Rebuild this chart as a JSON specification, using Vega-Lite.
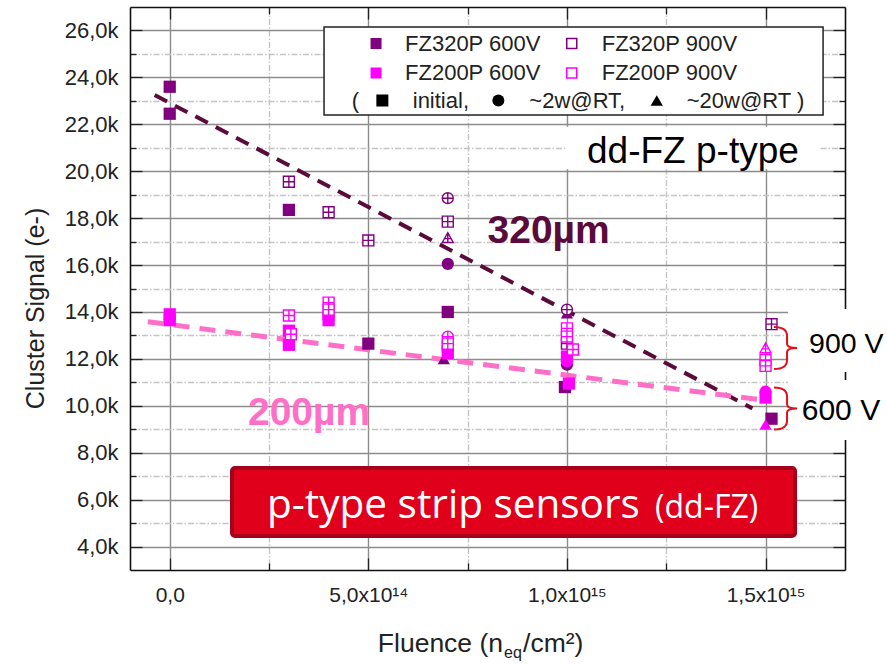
{
  "$schema": "https://vega.github.io/schema/vega-lite/v6.json",
  "width": 715,
  "height": 563,
  "autosize": {"type": "none"},
  "padding": {"left": 130, "top": 7, "right": 42, "bottom": 94},
  "background": "white",
  "config": {"view": {"stroke": null}, "font": "Liberation Sans"},
  "data": {"values": [{}]},
  "datasets": {
    "fits": [
      {"fit": "t320", "f": -3.8e13, "s": 23250},
      {"fit": "t320", "f": 1.467e15, "s": 9890},
      {"fit": "t200", "f": -5.5e13, "s": 13580},
      {"fit": "t200", "f": 1.49e15, "s": 10250}
    ],
    "pts": [
      {"sample": "FZ320P", "bias": "600V", "state": "initial", "f": 0, "s": 23600},
      {"sample": "FZ320P", "bias": "600V", "state": "initial", "f": 0, "s": 22450},
      {"sample": "FZ320P", "bias": "600V", "state": "initial", "f": 3e14, "s": 18350},
      {"sample": "FZ320P", "bias": "600V", "state": "initial", "f": 5e14, "s": 12650},
      {"sample": "FZ320P", "bias": "600V", "state": "2w", "f": 7e14, "s": 16050},
      {"sample": "FZ320P", "bias": "600V", "state": "initial", "f": 7e14, "s": 14000},
      {"sample": "FZ320P", "bias": "600V", "state": "20w", "f": 6.9e14, "s": 12000},
      {"sample": "FZ320P", "bias": "600V", "state": "20w", "f": 1e15, "s": 13950},
      {"sample": "FZ320P", "bias": "600V", "state": "2w", "f": 1e15, "s": 11750},
      {"sample": "FZ320P", "bias": "600V", "state": "initial", "f": 0.995e15, "s": 10800},
      {"sample": "FZ320P", "bias": "600V", "state": "initial", "f": 1.515e15, "s": 9450},
      {"sample": "FZ200P", "bias": "600V", "state": "initial", "f": 0, "s": 13900},
      {"sample": "FZ200P", "bias": "600V", "state": "initial", "f": 0, "s": 13650},
      {"sample": "FZ200P", "bias": "600V", "state": "initial", "f": 3e14, "s": 13200},
      {"sample": "FZ200P", "bias": "600V", "state": "initial", "f": 3e14, "s": 12600},
      {"sample": "FZ200P", "bias": "600V", "state": "initial", "f": 4e14, "s": 13900},
      {"sample": "FZ200P", "bias": "600V", "state": "initial", "f": 4e14, "s": 13650},
      {"sample": "FZ200P", "bias": "600V", "state": "initial", "f": 7e14, "s": 12550},
      {"sample": "FZ200P", "bias": "600V", "state": "initial", "f": 7e14, "s": 12250},
      {"sample": "FZ200P", "bias": "600V", "state": "initial", "f": 1e15, "s": 12100},
      {"sample": "FZ200P", "bias": "600V", "state": "2w", "f": 1e15, "s": 11900},
      {"sample": "FZ200P", "bias": "600V", "state": "initial", "f": 1.005e15, "s": 10950},
      {"sample": "FZ200P", "bias": "600V", "state": "2w", "f": 1.5e15, "s": 10600},
      {"sample": "FZ200P", "bias": "600V", "state": "initial", "f": 1.5e15, "s": 10350},
      {"sample": "FZ200P", "bias": "600V", "state": "20w", "f": 1.5e15, "s": 9200},
      {"sample": "FZ320P", "bias": "900V", "state": "initial", "f": 3e14, "s": 19550},
      {"sample": "FZ320P", "bias": "900V", "state": "initial", "f": 4e14, "s": 18250},
      {"sample": "FZ320P", "bias": "900V", "state": "initial", "f": 5e14, "s": 17050},
      {"sample": "FZ320P", "bias": "900V", "state": "2w", "f": 7e14, "s": 18850},
      {"sample": "FZ320P", "bias": "900V", "state": "initial", "f": 7e14, "s": 17850},
      {"sample": "FZ320P", "bias": "900V", "state": "20w", "f": 7e14, "s": 17150},
      {"sample": "FZ320P", "bias": "900V", "state": "2w", "f": 1e15, "s": 14100},
      {"sample": "FZ320P", "bias": "900V", "state": "initial", "f": 1e15, "s": 12650},
      {"sample": "FZ320P", "bias": "900V", "state": "initial", "f": 1.515e15, "s": 13480},
      {"sample": "FZ200P", "bias": "900V", "state": "initial", "f": 3e14, "s": 13850},
      {"sample": "FZ200P", "bias": "900V", "state": "initial", "f": 3.05e14, "s": 13050},
      {"sample": "FZ200P", "bias": "900V", "state": "initial", "f": 4e14, "s": 14400},
      {"sample": "FZ200P", "bias": "900V", "state": "initial", "f": 4e14, "s": 14100},
      {"sample": "FZ200P", "bias": "900V", "state": "2w", "f": 7e14, "s": 12950},
      {"sample": "FZ200P", "bias": "900V", "state": "initial", "f": 7e14, "s": 12650},
      {"sample": "FZ200P", "bias": "900V", "state": "initial", "f": 1e15, "s": 13300},
      {"sample": "FZ200P", "bias": "900V", "state": "initial", "f": 1e15, "s": 12950},
      {"sample": "FZ200P", "bias": "900V", "state": "initial", "f": 1.015e15, "s": 12400},
      {"sample": "FZ200P", "bias": "900V", "state": "20w", "f": 1.5e15, "s": 12450},
      {"sample": "FZ200P", "bias": "900V", "state": "initial", "f": 1.5e15, "s": 11950},
      {"sample": "FZ200P", "bias": "900V", "state": "initial", "f": 1.5e15, "s": 11700}
    ]
  },
  "resolve": {
    "scale": {"shape": "independent"},
    "axis": {"x": "independent", "y": "independent"}
  },
  "layer": [
    {
      "data": {"name": "fits"},
      "transform": [{"filter": "datum.fit === 't320'"}],
      "mark": {"type": "line", "color": "#5a0b3b", "strokeWidth": 4, "strokeDash": [14, 9]},
      "encoding": {
        "x": {
          "field": "f", "type": "quantitative",
          "scale": {"domain": [-1e14, 1.7e15], "nice": false, "zero": false},
          "axis": {
            "orient": "bottom",
            "values": [0, 2.5e14, 5e14, 7.5e14, 1e15, 1.25e15, 1.5e15],
            "labelExpr": "datum.value === 0 ? '0,0' : datum.value === 5e14 ? '5,0x10¹⁴' : datum.value === 1e15 ? '1,0x10¹⁵' : datum.value === 1.5e15 ? '1,5x10¹⁵' : ''",
            "labelFont": "Liberation Sans", "labelFontSize": 21, "labelColor": "#222",
            "labelPadding": 26, "labelFlush": false, "labelOverlap": false,
            "tickSize": {"condition": {"test": "datum.value % 5e14 !== 0", "value": -7}, "value": -12},
            "tickColor": "#222", "tickWidth": 1.3,
            "grid": true,
            "gridColor": {"condition": {"test": "datum.value % 5e14 !== 0", "value": "#c4c4c4"}, "value": "#8c8c8c"},
            "gridDash": {"condition": {"test": "datum.value % 5e14 !== 0", "value": [6, 2, 1.5, 2]}, "value": []},
            "gridWidth": 1.4,
            "domain": true, "domainColor": "#111", "domainWidth": 1.6,
            "title": null
          }
        },
        "y": {
          "field": "s", "type": "quantitative",
          "scale": {"domain": [3000, 27000], "nice": false, "zero": false},
          "axis": {
            "orient": "left",
            "values": [4000, 5000, 6000, 7000, 8000, 9000, 10000, 11000, 12000, 13000, 14000, 15000, 16000, 17000, 18000, 19000, 20000, 21000, 22000, 23000, 24000, 25000, 26000],
            "labelExpr": "datum.value % 2000 === 0 ? replace(format(datum.value / 1000, '.1f'), '.', ',') + 'k' : ''",
            "labelFont": "Liberation Sans", "labelFontSize": 22, "labelColor": "#222",
            "labelPadding": 24, "labelOverlap": false,
            "tickSize": {"condition": {"test": "datum.value % 2000 !== 0", "value": -6}, "value": -12},
            "tickColor": "#222", "tickWidth": 1.3,
            "grid": true,
            "gridColor": {"condition": {"test": "datum.value % 2000 !== 0", "value": "#c4c4c4"}, "value": "#8c8c8c"},
            "gridDash": {"condition": {"test": "datum.value % 2000 !== 0", "value": [6, 2, 1.5, 2]}, "value": []},
            "gridWidth": 1.4,
            "domain": true, "domainColor": "#111", "domainWidth": 1.6,
            "title": "Cluster Signal (e-)",
            "titleFont": "Liberation Sans", "titleFontSize": 25, "titleFontWeight": "normal", "titleColor": "#222",
            "titleX": -95, "titleY": 301, "titleAngle": 270, "titleAlign": "center", "titleBaseline": "middle"
          }
        }
      }
    },
    {
      "data": {"name": "fits"},
      "transform": [{"filter": "datum.fit === 't200'"}],
      "mark": {"type": "line", "color": "#ff6ec7", "strokeWidth": 5, "strokeDash": [16, 10]},
      "encoding": {
        "x": {"field": "f", "type": "quantitative", "axis": null},
        "y": {"field": "s", "type": "quantitative", "axis": null}
      }
    },
    {
      "data": {"name": "pts"},
      "transform": [{"filter": "datum.bias === '600V'"}],
      "mark": {"type": "point", "filled": true, "size": 150, "opacity": 1},
      "encoding": {
        "x": {
          "field": "f", "type": "quantitative",
          "scale": {"domain": [-1e14, 1.7e15], "nice": false, "zero": false},
          "axis": {
            "orient": "top",
            "values": [0, 2.5e14, 5e14, 7.5e14, 1e15, 1.25e15, 1.5e15],
            "labels": false, "grid": false,
            "tickSize": {"condition": {"test": "datum.value % 5e14 !== 0", "value": -7}, "value": -12},
            "tickColor": "#222", "tickWidth": 1.3,
            "domain": true, "domainColor": "#111", "domainWidth": 1.6,
            "title": null
          }
        },
        "y": {
          "field": "s", "type": "quantitative",
          "scale": {"domain": [3000, 27000], "nice": false, "zero": false},
          "axis": {
            "orient": "right",
            "values": [4000, 5000, 6000, 7000, 8000, 9000, 10000, 11000, 12000, 13000, 14000, 15000, 16000, 17000, 18000, 19000, 20000, 21000, 22000, 23000, 24000, 25000, 26000],
            "labels": false, "grid": false,
            "tickSize": {"condition": {"test": "datum.value % 2000 !== 0", "value": -6}, "value": -12},
            "tickColor": "#222", "tickWidth": 1.3,
            "domain": true, "domainColor": "#111", "domainWidth": 1.6,
            "title": null
          }
        },
        "color": {
          "field": "sample", "type": "nominal",
          "scale": {"domain": ["FZ320P", "FZ200P"], "range": ["#800080", "#ff00ff"]},
          "legend": null
        },
        "shape": {
          "field": "state", "type": "nominal",
          "scale": {"domain": ["initial", "2w", "20w"], "range": ["square", "circle", "triangle-up"]},
          "legend": null
        }
      }
    },
    {
      "data": {"name": "pts"},
      "transform": [{"filter": "datum.bias === '900V'"}],
      "mark": {"type": "point", "size": 120, "strokeWidth": 1.4, "opacity": 1},
      "encoding": {
        "x": {"field": "f", "type": "quantitative", "axis": null},
        "y": {"field": "s", "type": "quantitative", "axis": null},
        "fill": {"value": "white"},
        "stroke": {
          "field": "sample", "type": "nominal",
          "scale": {"domain": ["FZ320P", "FZ200P"], "range": ["#800080", "#ff00ff"]},
          "legend": null
        },
        "shape": {
          "field": "state", "type": "nominal",
          "scale": {
            "domain": ["initial", "2w", "20w"],
            "range": [
              "M-1,-1H1V1H-1Z M-1,0H1 M0,-1V1",
              "M-1,0A1,1,0,1,1,1,0A1,1,0,1,1,-1,0Z M-1,0H1 M0,-1V1",
              "M0,-1L1,0.8H-1Z M-0.55,0.1H0.55 M0,-1V0.8"
            ]
          },
          "legend": null
        }
      }
    },
    {
      "mark": {"type": "text", "text": "320µm", "font": "Liberation Sans", "fontSize": 39, "fontWeight": "bold", "color": "#5a0b3b", "align": "left", "baseline": "alphabetic"},
      "encoding": {"x": {"datum": 8.0e14, "type": "quantitative", "axis": null}, "y": {"datum": 16939, "type": "quantitative", "axis": null}}
    },
    {
      "mark": {"type": "text", "text": "200µm", "font": "Liberation Sans", "fontSize": 39, "fontWeight": "bold", "color": "#ff6ec7", "align": "left", "baseline": "alphabetic"},
      "encoding": {"x": {"datum": 1.97e14, "type": "quantitative", "axis": null}, "y": {"datum": 9181, "type": "quantitative", "axis": null}}
    },
    {
      "mark": {"type": "rect", "fill": "white"},
      "encoding": {
        "x": {"datum": 0.995e15, "type": "quantitative", "axis": null}, "x2": {"datum": 1.6372e15},
        "y": {"datum": 21897, "type": "quantitative", "axis": null}, "y2": {"datum": 20080}
      }
    },
    {
      "mark": {"type": "text", "text": "dd-FZ p-type", "font": "Liberation Sans", "fontSize": 37, "color": "#000", "align": "left", "baseline": "alphabetic"},
      "encoding": {"x": {"datum": 1.0506e15, "type": "quantitative", "axis": null}, "y": {"datum": 20337, "type": "quantitative", "axis": null}}
    },
    {
      "mark": {"type": "rect", "fill": "white", "stroke": "#222", "strokeWidth": 1.5},
      "encoding": {
        "x": {"datum": 0.3885e15, "type": "quantitative", "axis": null}, "x2": {"datum": 1.6448e15},
        "y": {"datum": 26147, "type": "quantitative", "axis": null}, "y2": {"datum": 22396}
      }
    },
    {
      "mark": {"type": "point", "shape": "square", "filled": true, "size": 121, "color": "#800080", "opacity": 1},
      "encoding": {"x": {"datum": 0.5194e15, "type": "quantitative", "axis": null}, "y": {"datum": 25444, "type": "quantitative", "axis": null}}
    },
    {
      "mark": {"type": "text", "text": "FZ320P 600V", "fontSize": 22, "color": "#222", "align": "left", "baseline": "middle"},
      "encoding": {"x": {"datum": 0.5924e15, "type": "quantitative", "axis": null}, "y": {"datum": 25444, "type": "quantitative", "axis": null}}
    },
    {
      "mark": {"type": "point", "shape": "square", "filled": false, "size": 100, "stroke": "#800080", "strokeWidth": 1.5, "opacity": 1},
      "encoding": {"x": {"datum": 1.0121e15, "type": "quantitative", "axis": null}, "y": {"datum": 25444, "type": "quantitative", "axis": null}}
    },
    {
      "mark": {"type": "text", "text": "FZ320P 900V", "fontSize": 22, "color": "#222", "align": "left", "baseline": "middle"},
      "encoding": {"x": {"datum": 1.0876e15, "type": "quantitative", "axis": null}, "y": {"datum": 25444, "type": "quantitative", "axis": null}}
    },
    {
      "mark": {"type": "point", "shape": "square", "filled": true, "size": 121, "color": "#ff00ff", "opacity": 1},
      "encoding": {"x": {"datum": 0.5194e15, "type": "quantitative", "axis": null}, "y": {"datum": 24186, "type": "quantitative", "axis": null}}
    },
    {
      "mark": {"type": "text", "text": "FZ200P 600V", "fontSize": 22, "color": "#222", "align": "left", "baseline": "middle"},
      "encoding": {"x": {"datum": 0.5924e15, "type": "quantitative", "axis": null}, "y": {"datum": 24186, "type": "quantitative", "axis": null}}
    },
    {
      "mark": {"type": "point", "shape": "square", "filled": false, "size": 100, "stroke": "#ff00ff", "strokeWidth": 1.5, "opacity": 1},
      "encoding": {"x": {"datum": 1.0121e15, "type": "quantitative", "axis": null}, "y": {"datum": 24186, "type": "quantitative", "axis": null}}
    },
    {
      "mark": {"type": "text", "text": "FZ200P 900V", "fontSize": 22, "color": "#222", "align": "left", "baseline": "middle"},
      "encoding": {"x": {"datum": 1.0876e15, "type": "quantitative", "axis": null}, "y": {"datum": 24186, "type": "quantitative", "axis": null}}
    },
    {
      "mark": {"type": "text", "text": "(", "fontSize": 22, "color": "#222", "align": "left", "baseline": "middle"},
      "encoding": {"x": {"datum": 0.4582e15, "type": "quantitative", "axis": null}, "y": {"datum": 23014, "type": "quantitative", "axis": null}}
    },
    {
      "mark": {"type": "point", "shape": "square", "filled": true, "size": 144, "color": "#000", "opacity": 1},
      "encoding": {"x": {"datum": 0.5353e15, "type": "quantitative", "axis": null}, "y": {"datum": 23014, "type": "quantitative", "axis": null}}
    },
    {
      "mark": {"type": "text", "text": "initial,", "fontSize": 22, "color": "#222", "align": "left", "baseline": "middle"},
      "encoding": {"x": {"datum": 0.6118e15, "type": "quantitative", "axis": null}, "y": {"datum": 23014, "type": "quantitative", "axis": null}}
    },
    {
      "mark": {"type": "point", "shape": "circle", "filled": true, "size": 144, "color": "#000", "opacity": 1},
      "encoding": {"x": {"datum": 0.8273e15, "type": "quantitative", "axis": null}, "y": {"datum": 23014, "type": "quantitative", "axis": null}}
    },
    {
      "mark": {"type": "text", "text": "~2w@RT,", "fontSize": 22, "color": "#222", "align": "left", "baseline": "middle"},
      "encoding": {"x": {"datum": 0.9053e15, "type": "quantitative", "axis": null}, "y": {"datum": 23014, "type": "quantitative", "axis": null}}
    },
    {
      "mark": {"type": "point", "shape": "triangle-up", "filled": true, "size": 150, "color": "#000", "opacity": 1},
      "encoding": {"x": {"datum": 1.2261e15, "type": "quantitative", "axis": null}, "y": {"datum": 23014, "type": "quantitative", "axis": null}}
    },
    {
      "mark": {"type": "text", "text": "~20w@RT )", "fontSize": 22, "color": "#222", "align": "left", "baseline": "middle"},
      "encoding": {"x": {"datum": 1.3016e15, "type": "quantitative", "axis": null}, "y": {"datum": 23014, "type": "quantitative", "axis": null}}
    },
    {
      "mark": {"type": "rect", "fill": "#e1001b", "stroke": "#a3001c", "strokeWidth": 4, "cornerRadius": 3},
      "encoding": {
        "x": {"datum": 0.1568e15, "type": "quantitative", "axis": null}, "x2": {"datum": 1.5742e15},
        "y": {"datum": 7347, "type": "quantitative", "axis": null}, "y2": {"datum": 4448}
      }
    },
    {
      "mark": {"type": "text", "text": "p-type strip sensors", "font": "Open Sans", "fontSize": 40.5, "color": "white", "align": "left", "baseline": "alphabetic"},
      "encoding": {"x": {"datum": 0.245e15, "type": "quantitative", "axis": null}, "y": {"datum": 5216, "type": "quantitative", "axis": null}}
    },
    {
      "mark": {"type": "text", "text": "(dd-FZ)", "font": "Open Sans", "fontSize": 32, "color": "white", "align": "left", "baseline": "alphabetic"},
      "encoding": {"x": {"datum": 1.2218e15, "type": "quantitative", "axis": null}, "y": {"datum": 5216, "type": "quantitative", "axis": null}}
    },
    {
      "mark": {"type": "rect", "fill": "white"},
      "encoding": {
        "x": {"datum": 1.5567e15, "type": "quantitative", "axis": null}, "x2": {"datum": 1.83e15},
        "y": {"datum": 14126, "type": "quantitative", "axis": null}, "y2": {"datum": 11440}
      }
    },
    {
      "mark": {"type": "rect", "fill": "white"},
      "encoding": {
        "x": {"datum": 1.5567e15, "type": "quantitative", "axis": null}, "x2": {"datum": 1.83e15},
        "y": {"datum": 11099, "type": "quantitative", "axis": null}, "y2": {"datum": 8541}
      }
    },
    {
      "mark": {"type": "point", "shape": "M-0.62,-1Q0,-1 0,-0.57L0,-0.19Q0,0 0.48,0Q0,0 0,0.19L0,0.57Q0,1 -0.62,1", "filled": false, "size": 1764, "stroke": "#e0101a", "strokeWidth": 2, "opacity": 1},
      "encoding": {"x": {"datum": 1.5541e15, "type": "quantitative", "axis": null}, "y": {"datum": 12463, "type": "quantitative", "axis": null}}
    },
    {
      "mark": {"type": "point", "shape": "M-0.62,-1Q0,-1 0,-0.57L0,-0.19Q0,0 0.48,0Q0,0 0,0.19L0,0.57Q0,1 -0.62,1", "filled": false, "size": 1764, "stroke": "#e0101a", "strokeWidth": 2, "opacity": 1},
      "encoding": {"x": {"datum": 1.5541e15, "type": "quantitative", "axis": null}, "y": {"datum": 9884, "type": "quantitative", "axis": null}}
    },
    {
      "mark": {"type": "text", "text": "900 V", "fontSize": 28.5, "color": "#000", "align": "left", "baseline": "alphabetic"},
      "encoding": {"x": {"datum": 1.6095e15, "type": "quantitative", "axis": null}, "y": {"datum": 12237, "type": "quantitative", "axis": null}}
    },
    {
      "mark": {"type": "text", "text": "600 V", "fontSize": 30, "color": "#000", "align": "left", "baseline": "alphabetic"},
      "encoding": {"x": {"datum": 1.5911e15, "type": "quantitative", "axis": null}, "y": {"datum": 9394, "type": "quantitative", "axis": null}}
    },
    {
      "mark": {"type": "text", "text": "Fluence (n", "fontSize": 26.5, "color": "#222", "align": "right", "baseline": "alphabetic"},
      "encoding": {"x": {"datum": 0.8391e15, "type": "quantitative", "axis": null}, "y": {"datum": -484, "type": "quantitative", "axis": null}}
    },
    {
      "mark": {"type": "text", "text": "eq", "fontSize": 16, "color": "#222", "align": "left", "baseline": "alphabetic"},
      "encoding": {"x": {"datum": 0.8416e15, "type": "quantitative", "axis": null}, "y": {"datum": -760, "type": "quantitative", "axis": null}}
    },
    {
      "mark": {"type": "text", "text": "/cm²)", "fontSize": 26.5, "color": "#222", "align": "left", "baseline": "alphabetic"},
      "encoding": {"x": {"datum": 0.8895e15, "type": "quantitative", "axis": null}, "y": {"datum": -484, "type": "quantitative", "axis": null}}
    }
  ]
}
